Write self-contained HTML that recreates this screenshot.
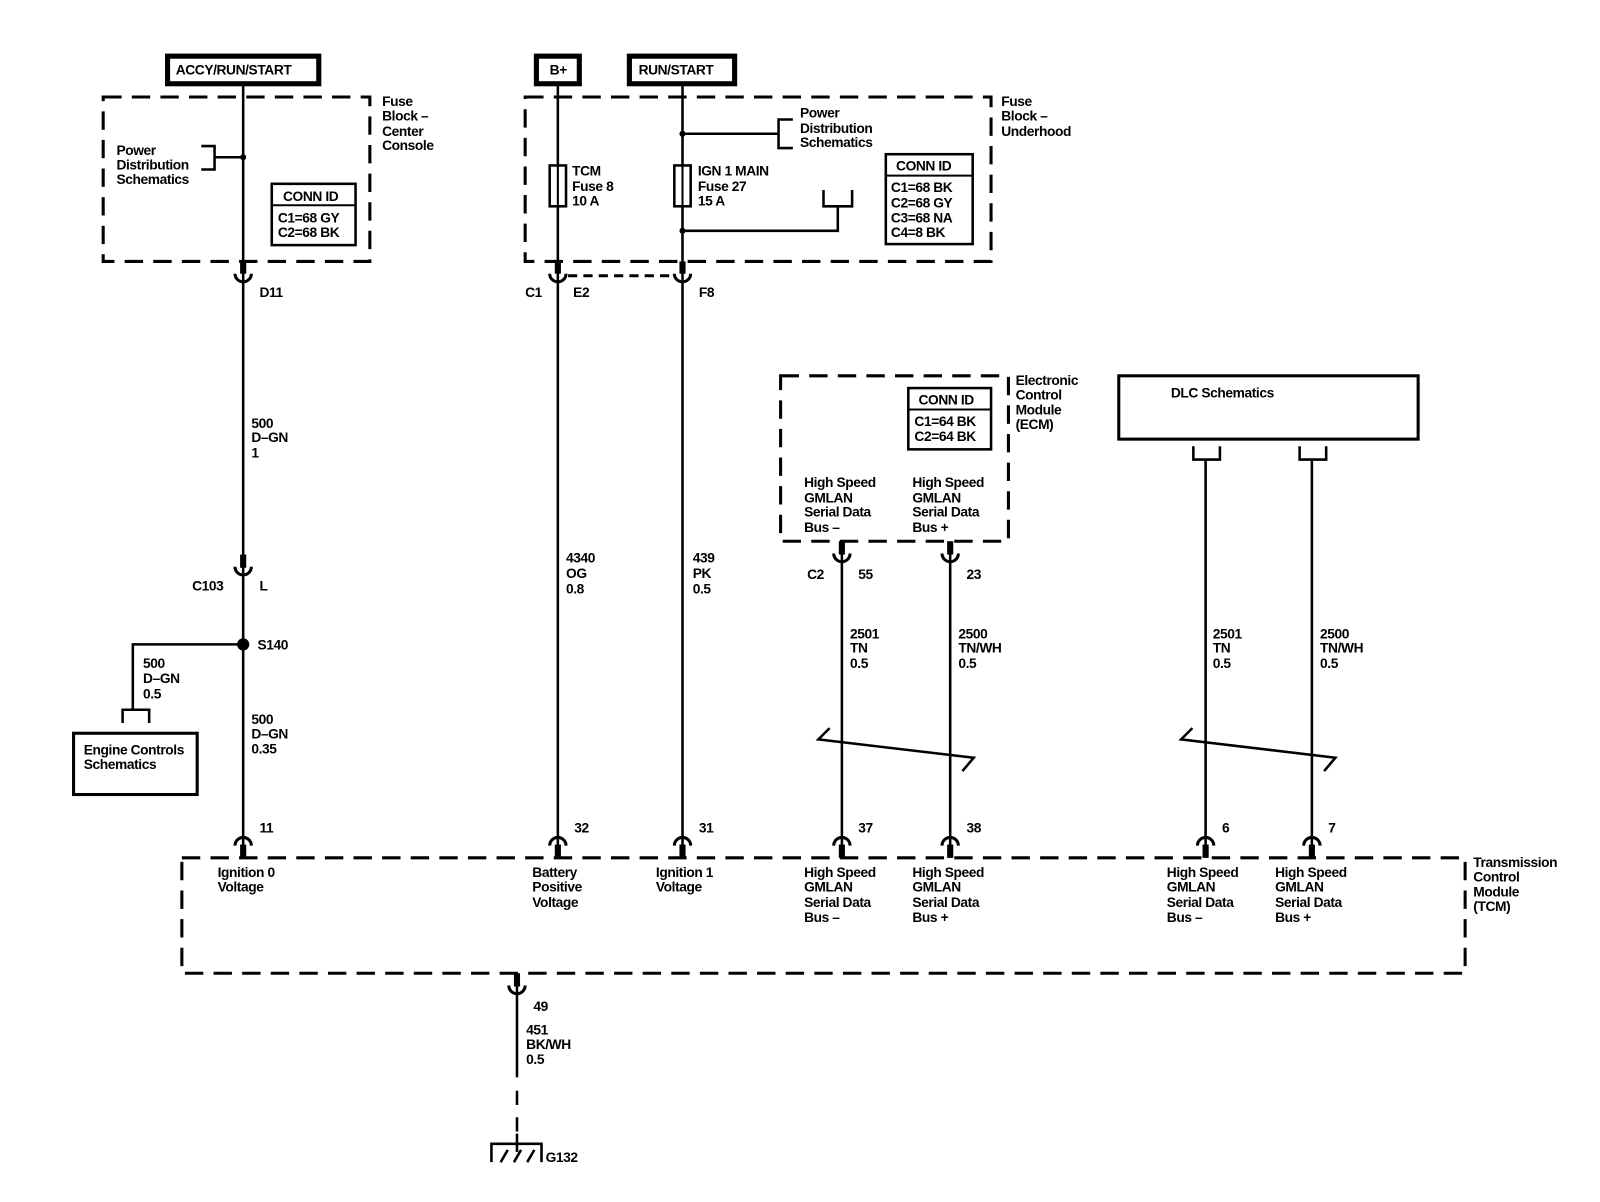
<!DOCTYPE html>
<html><head><meta charset="utf-8"><style>
html,body{margin:0;padding:0;background:#fff;}
svg{display:block}
text{font-family:"Liberation Sans",Arial,sans-serif;font-size:13.5px;fill:#000;letter-spacing:-0.4px;font-weight:bold}
</style></head><body>
<svg width="1600" height="1202" viewBox="0 0 1566 1177" preserveAspectRatio="none" xmlns="http://www.w3.org/2000/svg">
<defs>
<g id="cupUp"><path d="M-8,-7 A8,8 0 0 0 8,-7" fill="none" stroke="#000" stroke-width="3"/></g>
<g id="capDn"><path d="M-8,7 A8,8 0 0 1 8,7" fill="none" stroke="#000" stroke-width="3"/></g>
</defs>
<g fill="none" stroke="#000">
<!-- top boxes -->
<rect x="164" y="55" width="148" height="27" stroke-width="5"/>
<rect x="525" y="55" width="42" height="27" stroke-width="5"/>
<rect x="616" y="55" width="103" height="27" stroke-width="5"/>
<!-- dashed boxes -->
<g stroke-width="3" stroke-dasharray="18,10">
<rect x="101" y="95" width="261" height="161"/>
<rect x="514" y="95" width="456" height="161"/>
<rect x="764" y="368" width="223" height="162"/>
<rect x="178" y="840" width="1256" height="113"/>
</g>
<rect x="1095" y="368" width="293" height="62" stroke-width="3"/>
<rect x="72" y="718" width="121" height="60" stroke-width="3"/>
<rect x="266" y="180" width="82" height="60" stroke-width="2.5"/><line x1="266" y1="201" x2="348" y2="201" stroke-width="2"/>
<rect x="867" y="151" width="85" height="88" stroke-width="2.5"/><line x1="867" y1="172" x2="952" y2="172" stroke-width="2"/>
<rect x="889" y="380" width="81" height="60" stroke-width="2.5"/><line x1="889" y1="401" x2="970" y2="401" stroke-width="2"/>
<!-- wires -->
<g stroke-width="2.5">
<line x1="238" y1="82" x2="238" y2="840"/>
<line x1="546" y1="82" x2="546" y2="840"/>
<line x1="668" y1="82" x2="668" y2="840"/>
<line x1="824" y1="530" x2="824" y2="840"/>
<line x1="930" y1="530" x2="930" y2="840"/>
<line x1="1180" y1="450" x2="1180" y2="840"/>
<line x1="1284" y1="450" x2="1284" y2="840"/>
<line x1="506" y1="953" x2="506" y2="1055"/>
<line x1="506" y1="1068" x2="506" y2="1082" />
<line x1="506" y1="1094" x2="506" y2="1108" />
<line x1="506" y1="1110" x2="506" y2="1128" />
<!-- brackets -->
<polyline points="197,143 210,143 210,166 197,166"/><line x1="210" y1="154" x2="238" y2="154"/>
<line x1="668" y1="131" x2="762" y2="131"/><polyline points="776,117 762,117 762,145 776,145"/>
<polyline points="668,226 820,226 820,202"/><polyline points="806,186 806,202 834,202 834,186"/>
<polyline points="238,631 130,631 130,695"/><polyline points="120,708 120,695 146,695 146,708"/>
<polyline points="1168,437 1168,450 1194,450 1194,437"/>
<polyline points="1272,437 1272,450 1298,450 1298,437"/>
<!-- twisted -->
<polyline points="812,713 801,724 953,742 942,755"/>
<polyline points="1167,713 1156,724 1307,742 1296,755"/>
<!-- ground -->
<polyline points="481,1138 481,1120 530,1120 530,1138"/>
<line x1="490" y1="1138" x2="497" y2="1126"/><line x1="503" y1="1138" x2="510" y2="1126"/><line x1="516" y1="1138" x2="523" y2="1126"/>
</g>
<!-- fuses -->
<rect x="538" y="162" width="16" height="40" stroke-width="2.5" fill="#fff"/>
<rect x="660" y="162" width="16" height="40" stroke-width="2.5" fill="#fff"/>
<line x1="546" y1="162" x2="546" y2="202" stroke-width="2"/><line x1="668" y1="162" x2="668" y2="202" stroke-width="2"/>
<line x1="556" y1="270" x2="660" y2="270" stroke-width="3" stroke-dasharray="9,6"/>
<!-- thick stubs -->
<g stroke-width="6">
<line x1="238" y1="256" x2="238" y2="268"/><line x1="546" y1="256" x2="546" y2="268"/><line x1="668" y1="256" x2="668" y2="268"/>
<line x1="238" y1="543" x2="238" y2="556"/>
<line x1="824" y1="530" x2="824" y2="543"/><line x1="930" y1="530" x2="930" y2="543"/>
<line x1="506" y1="953" x2="506" y2="966"/>
<g><line x1="238" y1="827" x2="238" y2="840"/><line x1="546" y1="827" x2="546" y2="840"/><line x1="668" y1="827" x2="668" y2="840"/><line x1="824" y1="827" x2="824" y2="840"/><line x1="930" y1="827" x2="930" y2="840"/><line x1="1180" y1="827" x2="1180" y2="840"/><line x1="1284" y1="827" x2="1284" y2="840"/></g>
</g>
</g>
<g fill="#000"><circle cx="238" cy="154" r="3"/><circle cx="668" cy="131" r="3"/><circle cx="668" cy="226" r="3"/><circle cx="238" cy="631" r="6"/></g>
<use href="#cupUp" x="238" y="275"/><use href="#cupUp" x="546" y="275"/><use href="#cupUp" x="668" y="275"/>
<use href="#cupUp" x="238" y="562"/><use href="#cupUp" x="824" y="549"/><use href="#cupUp" x="930" y="549"/><use href="#cupUp" x="506" y="972"/>
<use href="#capDn" x="238" y="821"/><use href="#capDn" x="546" y="821"/><use href="#capDn" x="668" y="821"/><use href="#capDn" x="824" y="821"/><use href="#capDn" x="930" y="821"/><use href="#capDn" x="1180" y="821"/><use href="#capDn" x="1284" y="821"/>
<!-- text -->
<g>
<text x="172" y="73" style="font-weight:bold">ACCY/RUN/START</text>
<text x="538" y="73">B+</text>
<text x="625" y="73">RUN/START</text>
<text x="374" y="104">Fuse</text><text x="374" y="118">Block –</text><text x="374" y="133">Center</text><text x="374" y="147">Console</text>
<text x="114" y="152">Power</text><text x="114" y="166">Distribution</text><text x="114" y="180">Schematics</text>
<text x="277" y="197">CONN ID</text><text x="272" y="218">C1=68 GY</text><text x="272" y="232">C2=68 BK</text>
<text x="980" y="104">Fuse</text><text x="980" y="118">Block –</text><text x="980" y="133">Underhood</text>
<text x="783" y="115">Power</text><text x="783" y="130">Distribution</text><text x="783" y="144">Schematics</text>
<text x="560" y="172">TCM</text><text x="560" y="187">Fuse 8</text><text x="560" y="201">10 A</text>
<text x="683" y="172">IGN 1 MAIN</text><text x="683" y="187">Fuse 27</text><text x="683" y="201">15 A</text>
<text x="877" y="167">CONN ID</text><text x="872" y="188">C1=68 BK</text><text x="872" y="203">C2=68 GY</text><text x="872" y="218">C3=68 NA</text><text x="872" y="232">C4=8 BK</text>
<text x="254" y="291">D11</text><text x="514" y="291">C1</text><text x="561" y="291">E2</text><text x="684" y="291">F8</text>
<text x="246" y="419">500</text><text x="246" y="433">D–GN</text><text x="246" y="448">1</text>
<text x="188" y="578">C103</text><text x="254" y="578">L</text><text x="252" y="636">S140</text>
<text x="140" y="654">500</text><text x="140" y="669">D–GN</text><text x="140" y="684">0.5</text>
<text x="246" y="709">500</text><text x="246" y="723">D–GN</text><text x="246" y="738">0.35</text>
<text x="82" y="739">Engine Controls</text><text x="82" y="753">Schematics</text>
<text x="554" y="551">4340</text><text x="554" y="566">OG</text><text x="554" y="581">0.8</text>
<text x="678" y="551">439</text><text x="678" y="566">PK</text><text x="678" y="581">0.5</text>
<text x="994" y="377">Electronic</text><text x="994" y="391">Control</text><text x="994" y="406">Module</text><text x="994" y="420">(ECM)</text>
<text x="899" y="396">CONN ID</text><text x="895" y="417">C1=64 BK</text><text x="895" y="432">C2=64 BK</text>
<text x="787" y="477">High Speed</text><text x="787" y="492">GMLAN</text><text x="787" y="506">Serial Data</text><text x="787" y="521">Bus –</text>
<text x="893" y="477">High Speed</text><text x="893" y="492">GMLAN</text><text x="893" y="506">Serial Data</text><text x="893" y="521">Bus +</text>
<text x="1146" y="389">DLC Schematics</text>
<text x="790" y="567">C2</text><text x="840" y="567">55</text><text x="946" y="567">23</text>
<text x="832" y="625">2501</text><text x="832" y="639">TN</text><text x="832" y="654">0.5</text>
<text x="938" y="625">2500</text><text x="938" y="639">TN/WH</text><text x="938" y="654">0.5</text>
<text x="1187" y="625">2501</text><text x="1187" y="639">TN</text><text x="1187" y="654">0.5</text>
<text x="1292" y="625">2500</text><text x="1292" y="639">TN/WH</text><text x="1292" y="654">0.5</text>
<text x="254" y="815">11</text><text x="562" y="815">32</text><text x="684" y="815">31</text><text x="840" y="815">37</text><text x="946" y="815">38</text><text x="1196" y="815">6</text><text x="1300" y="815">7</text>
<text x="213" y="859">Ignition 0</text><text x="213" y="873">Voltage</text>
<text x="521" y="859">Battery</text><text x="521" y="873">Positive</text><text x="521" y="888">Voltage</text>
<text x="642" y="859">Ignition 1</text><text x="642" y="873">Voltage</text>
<text x="787" y="859">High Speed</text><text x="787" y="873">GMLAN</text><text x="787" y="888">Serial Data</text><text x="787" y="903">Bus –</text>
<text x="893" y="859">High Speed</text><text x="893" y="873">GMLAN</text><text x="893" y="888">Serial Data</text><text x="893" y="903">Bus +</text>
<text x="1142" y="859">High Speed</text><text x="1142" y="873">GMLAN</text><text x="1142" y="888">Serial Data</text><text x="1142" y="903">Bus –</text>
<text x="1248" y="859">High Speed</text><text x="1248" y="873">GMLAN</text><text x="1248" y="888">Serial Data</text><text x="1248" y="903">Bus +</text>
<text x="1442" y="849">Transmission</text><text x="1442" y="863">Control</text><text x="1442" y="878">Module</text><text x="1442" y="892">(TCM)</text>
<text x="522" y="990">49</text>
<text x="515" y="1013">451</text><text x="515" y="1027">BK/WH</text><text x="515" y="1042">0.5</text>
<text x="534" y="1138">G132</text>
</g>
</svg>
</body></html>
